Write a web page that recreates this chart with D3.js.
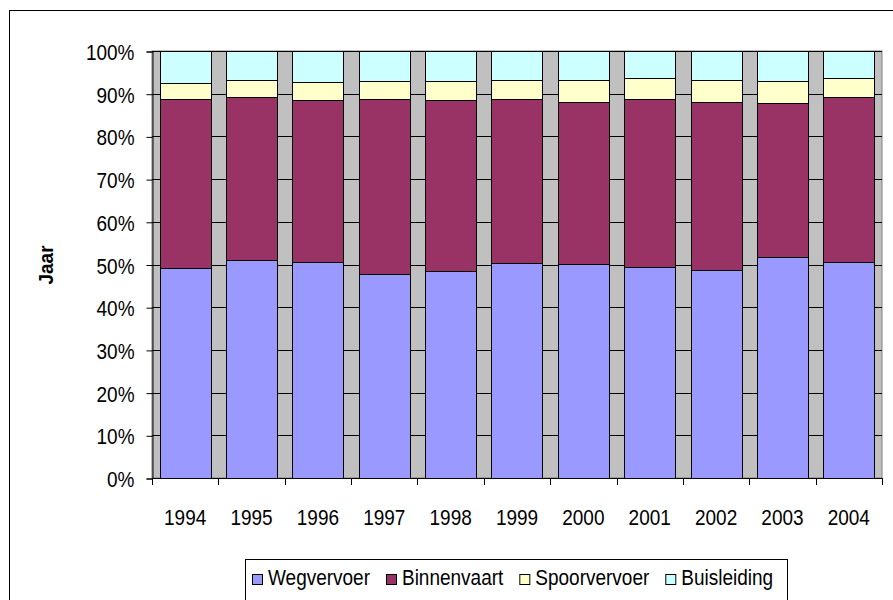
<!DOCTYPE html>
<html>
<head>
<meta charset="utf-8">
<script src="https://cdn.jsdelivr.net/npm/d3@7"></script>
<style>
  body { margin: 0; background: #fff; }
  svg { display: block; }
  text {
    font-family: Arial, "Liberation Sans", sans-serif;
    fill: #000;
    font-size: 19px;
    /* the original labels are a little taller than plain Arial */
    transform-box: fill-box;
    transform-origin: center;
    transform: scaleY(1.2);
  }
</style>
</head>
<body>
<div id="chart"></div>
<script>
// years on the x axis
var years = ['1994', '1995', '1996', '1997', '1998', '1999', '2000', '2001', '2002', '2003', '2004'];
var seriesNames = ['Wegvervoer', 'Binnenvaart', 'Spoorvervoer', 'Buisleiding'];
// share per mode (percent)
var wegvervoer = [49.1, 51.0, 50.7, 47.8, 48.5, 50.4, 50.1, 49.4, 48.7, 51.8, 50.5];
var binnenvaart = [39.7, 38.2, 37.8, 41.0, 40.0, 38.4, 38.0, 39.4, 39.4, 36.0, 38.7];
var spoorvervoer = [3.8, 4.1, 4.2, 4.2, 4.4, 4.5, 5.1, 4.8, 5.2, 5.2, 4.4];
var buisleiding = [7.4, 6.7, 7.3, 7.0, 7.1, 6.7, 6.8, 6.4, 6.7, 7.0, 6.4];
var yTicks = [0, 0.1, 0.2, 0.3, 0.4, 0.5, 0.6, 0.7, 0.8, 0.9, 1];

var colors = ['#9999ff', '#993366', '#ffffcc', '#ccffff'];

var width = 893;
var height = 600;
var plot = {left: 152, top: 51, right: 882, bottom: 478};

var rows = years.map(function(y, i) {
  return {
    year: y,
    Wegvervoer: wegvervoer[i],
    Binnenvaart: binnenvaart[i],
    Spoorvervoer: spoorvervoer[i],
    Buisleiding: buisleiding[i],
  };
});

var stacked = d3.stack()
  .keys(seriesNames)
  .offset(d3.stackOffsetExpand)(rows);

var svg = d3.select('#chart')
  .append('svg')
  .attr('width', width)
  .attr('height', height);

// outer chart border
svg.append('rect')
  .attr('x', 9.5)
  .attr('y', 10.5)
  .attr('width', width + 20)
  .attr('height', height + 20)
  .attr('fill', '#fff')
  .attr('stroke', '#000');

var x = d3.scaleBand()
  .domain(years)
  .range([plot.left, plot.right])
  .paddingInner(0.23)
  .paddingOuter(0.115);

var y = d3.scaleLinear()
  .domain([0, 1])
  .range([plot.bottom, plot.top]);

// grey plot area
svg.append('rect')
  .attr('x', plot.left)
  .attr('y', plot.top)
  .attr('width', plot.right - plot.left)
  .attr('height', plot.bottom - plot.top)
  .attr('fill', '#c0c0c0')
  .attr('stroke', '#808080');

// gridlines
svg.append('g')
  .selectAll('line')
  .data(yTicks.slice(1))
  .enter()
  .append('line')
  .attr('x1', plot.left)
  .attr('x2', plot.right)
  .attr('y1', d => Math.round(y(d)) + 0.5)
  .attr('y2', d => Math.round(y(d)) + 0.5)
  .attr('stroke', '#000');

// bars
svg.append('g')
  .selectAll('g')
  .data(stacked)
  .enter()
  .append('g')
  .attr('fill', (d, i) => colors[i])
  .selectAll('rect')
  .data(d => d)
  .enter()
  .append('rect')
  .attr('x', d => Math.round(x(d.data.year)) + 0.5)
  .attr('y', d => Math.round(y(d[1])) + 0.5)
  .attr('width', Math.round(x.bandwidth()))
  .attr('height', d => Math.round(y(d[0])) - Math.round(y(d[1])))
  .attr('stroke', '#000')
  .attr('stroke-width', 1);

// y axis
var yAxis = d3.axisLeft(y)
  .tickValues(yTicks)
  .tickFormat(d3.format('.0%'))
  .tickSize(6)
  .tickPadding(12);

svg.append('g')
  .attr('transform', `translate(${plot.left + 0.5},0.5)`)
  .call(yAxis)
  .call(g => g.select('.domain').attr('stroke', '#000'))
  .call(g => g.selectAll('text').attr('dy', '0.35em'));

// x axis, ticks sit between the categories
var step = x.step();
var xAxis = d3.axisBottom(x)
  .tickSize(0)
  .tickPadding(45);

svg.append('g')
  .attr('transform', `translate(0,${plot.bottom + 0.5})`)
  .call(xAxis)
  .call(g => g.select('.domain').attr('stroke', '#000').attr('d', `M${plot.left},0H${plot.right}`))
  .call(g => g.selectAll('text').attr('dy', 0));

svg.append('g')
  .selectAll('line')
  .data(d3.range(years.length + 1))
  .enter()
  .append('line')
  .attr('x1', i => Math.round(plot.left + i * step) + 0.5)
  .attr('x2', i => Math.round(plot.left + i * step) + 0.5)
  .attr('y1', plot.bottom)
  .attr('y2', plot.bottom + 7)
  .attr('stroke', '#000');

svg.selectAll('.tick text').style('font-size', '19px');

// axis title (css transform, so the rotation lives there too)
svg.append('text')
  .attr('x', 0)
  .attr('y', 0)
  .attr('text-anchor', 'middle')
  .style('transform-box', 'view-box')
  .style('transform-origin', '0 0')
  .style('transform', 'translate(53px, 265px) rotate(-90deg) scale(1, 1.1)')
  .style('font-size', '19px')
  .style('font-weight', 'bold')
  .text('Jaar');

// legend
var legend = svg.append('g');
legend.append('rect')
  .attr('x', 245.5)
  .attr('y', 559.5)
  .attr('width', 542)
  .attr('height', 60)
  .attr('fill', '#fff')
  .attr('stroke', '#000');

var lx = 252;
seriesNames.forEach(function(name, i) {
  var item = legend.append('g');
  item.append('rect')
    .attr('x', lx + 0.5)
    .attr('y', 574.5)
    .attr('width', 10)
    .attr('height', 10)
    .attr('fill', colors[i])
    .attr('stroke', '#000');
  var t = item.append('text')
    .attr('x', lx + 16)
    .attr('y', 584)
    .text(name);
  lx += 16 + t.node().getComputedTextLength() + 16;
});
</script>
</body>
</html>
